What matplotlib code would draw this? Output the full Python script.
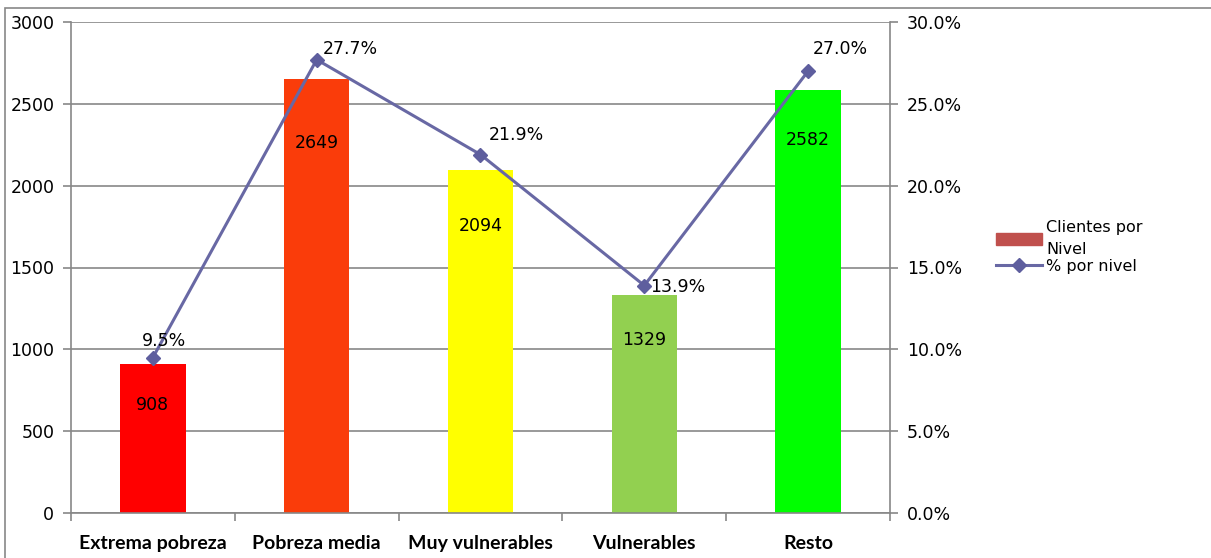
import matplotlib.pyplot as plt
import matplotlib.patches as mpatches
from matplotlib.lines import Line2D
import matplotlib.ticker

categories = ["Extrema pobreza", "Pobreza media", "Muy vulnerables", "Vulnerables", "Resto"]
clientes = [908, 2649, 2094, 1329, 2582]
porcentaje = [9.5, 27.7, 21.9, 13.9, 27.0]
bar_colors = ["#FF0000", "#FA3C0A", "#FFFF00", "#92D050", "#00FF00"]

# label offsets (points), as placed in the original chart
bar_label_drop = [29, 46, 40, 32, 36]
pct_label_offsets = [(-8, 12), (4, 8), (6, 14), (4, -1), (3, 16)]

grid_color = "#878787"
line_color = "#6868A4"
marker_color = "#5E5E9E"

fig = plt.figure(figsize=(12.11, 5.58), dpi=100)
ax1 = fig.add_axes((71 / 1211, 1 - 513 / 558, 819 / 1211, 491 / 558))

# outer chart border
fig.patches.append(mpatches.Rectangle((5 / 1211, -0.05), 1.2, 1 - 8 / 558 + 0.05,
                                      transform=fig.transFigure, fill=False,
                                      edgecolor=grid_color, linewidth=1.2))

x = list(range(len(categories)))
ax1.bar(x, clientes, width=0.4, color=bar_colors, zorder=2)
ax1.set_xlim(-0.5, len(categories) - 0.5)
ax1.set_ylim(0, 3000)
ax1.yaxis.set_major_locator(matplotlib.ticker.MultipleLocator(500))
ax1.grid(True, axis="y", color=grid_color, linewidth=1.2, zorder=0)
ax1.set_axisbelow(True)

ax1.set_xticks([i - 0.5 for i in range(len(categories) + 1)])
ax1.set_xticklabels([])
ax1.set_xticks(x, minor=True)
ax1.set_xticklabels(categories, minor=True, fontsize=14, fontweight="bold", family="Lato")
ax1.tick_params(axis="x", which="minor", length=0, pad=16)
ax1.tick_params(axis="x", which="major", length=6, color=grid_color, width=1.2)
ax1.tick_params(axis="y", length=6, color=grid_color, width=1.2, labelsize=12.5, pad=6)

for side in ["top", "right"]:
    ax1.spines[side].set_visible(False)
for side in ["left", "bottom"]:
    ax1.spines[side].set_color(grid_color)
    ax1.spines[side].set_linewidth(1.2)

for i in x:
    ax1.annotate(str(clientes[i]), xy=(i, clientes[i]), xytext=(0, -bar_label_drop[i]),
                 textcoords="offset points", ha="center", va="center", fontsize=12.5)

ax2 = ax1.twinx()
ax2.plot(x, porcentaje, color=line_color, linewidth=2.2, marker="D", markersize=7,
         markerfacecolor=marker_color, markeredgecolor=marker_color, zorder=3)
ax2.set_ylim(0, 30)
ax2.yaxis.set_major_locator(matplotlib.ticker.MultipleLocator(5))
ax2.yaxis.set_major_formatter(matplotlib.ticker.StrMethodFormatter("{x:.1f}%"))
ax2.tick_params(axis="y", length=6, color=grid_color, width=1.2, labelsize=12.5, pad=6)
for side in ["top", "left", "bottom"]:
    ax2.spines[side].set_visible(False)
ax2.spines["right"].set_color(grid_color)
ax2.spines["right"].set_linewidth(1.2)

for i in x:
    ax2.annotate("{0:.1f}%".format(porcentaje[i]), xy=(i, porcentaje[i]),
                 xytext=pct_label_offsets[i], textcoords="offset points",
                 ha="left", va="center", fontsize=12.5)

handles = [mpatches.Patch(color="#C0504D"),
           Line2D([0], [0], color=line_color, linewidth=2.2, marker="D", markersize=7,
                  markerfacecolor=marker_color, markeredgecolor=marker_color)]
leg = fig.legend(handles, ["Clientes por\nNivel", "% por nivel"], loc="upper left",
                 bbox_to_anchor=(988 / 1211, 1 - 212 / 558), frameon=False, fontsize=11.5,
                 handlelength=2.9, handletextpad=0.25, labelspacing=0.1, borderpad=0)
for t in leg.get_texts():
    t.set_linespacing(1.6)

fig.savefig("out.png", dpi=100)
